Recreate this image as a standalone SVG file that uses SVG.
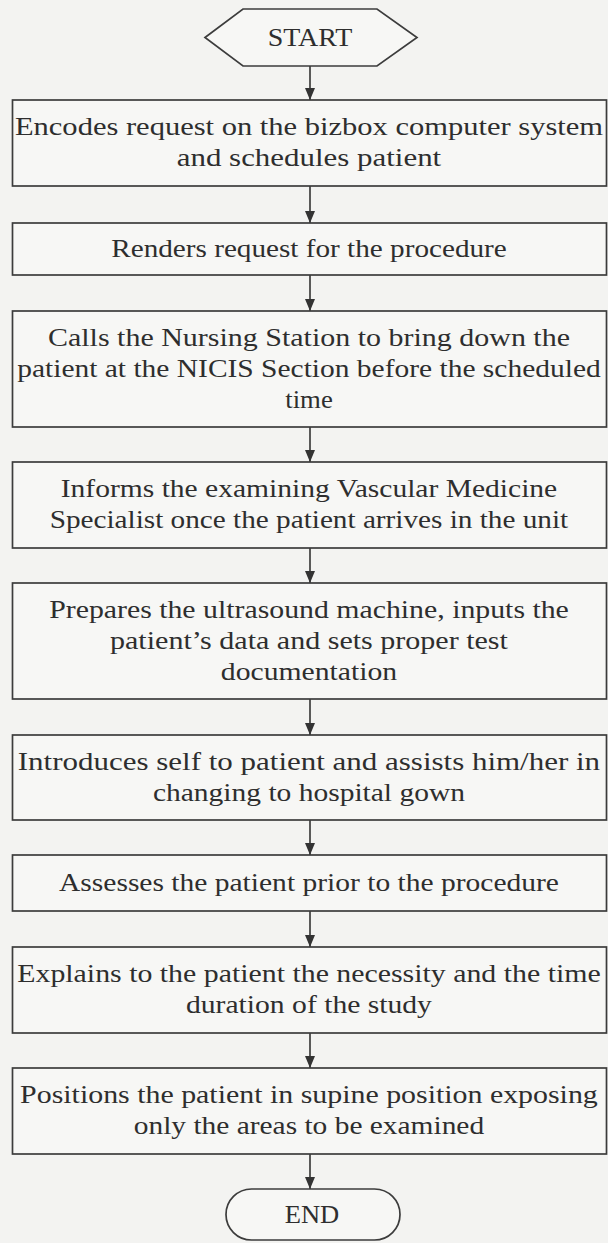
<svg xmlns="http://www.w3.org/2000/svg" width="608" height="1243" viewBox="0 0 608 1243">
<style>
.box{fill:#f7f7f5;stroke:#3c3c3c;stroke-width:1.7}
.t{font-family:"Liberation Serif","Times New Roman",serif;font-size:25px;fill:#2e2e2e;text-anchor:middle;transform-box:fill-box;transform-origin:center;transform:scaleX(1.16)}
.c{stroke:#333;stroke-width:1.6;fill:none}
</style>
<defs>
<marker id="ah" viewBox="0 0 12 10" refX="12" refY="5" markerWidth="12" markerHeight="10" markerUnits="userSpaceOnUse" orient="auto">
<path d="M0,0 L12,5 L0,10 Z" fill="#333"/>
</marker>
</defs>
<rect x="0" y="0" width="608" height="1243" fill="#f3f3f1"/>
<g id="connectors">
<line class="c" x1="310" y1="66" x2="310" y2="100" marker-end="url(#ah)"/>
<line class="c" x1="310" y1="186" x2="310" y2="223" marker-end="url(#ah)"/>
<line class="c" x1="310" y1="275" x2="310" y2="311" marker-end="url(#ah)"/>
<line class="c" x1="310" y1="427" x2="310" y2="462" marker-end="url(#ah)"/>
<line class="c" x1="310" y1="548" x2="310" y2="583" marker-end="url(#ah)"/>
<line class="c" x1="310" y1="699" x2="310" y2="735" marker-end="url(#ah)"/>
<line class="c" x1="310" y1="820" x2="310" y2="855" marker-end="url(#ah)"/>
<line class="c" x1="310" y1="911" x2="310" y2="947" marker-end="url(#ah)"/>
<line class="c" x1="310" y1="1033" x2="310" y2="1068" marker-end="url(#ah)"/>
<line class="c" x1="310" y1="1154" x2="310" y2="1189" marker-end="url(#ah)"/>
</g>
<g id="start">
<polygon class="box" points="205,37.5 243,9 377,9 417,37.5 377,66 243,66"/>
<text class="t" x="310" y="46" textLength="73" lengthAdjust="spacingAndGlyphs">START</text>
</g>
<g id="n1">
<rect class="box" x="12.5" y="100" width="594" height="86"/>
<text class="t" x="309" y="135.5" textLength="507" lengthAdjust="spacingAndGlyphs">Encodes request on the bizbox computer system</text>
<text class="t" x="309" y="166.5" textLength="228" lengthAdjust="spacingAndGlyphs">and schedules patient</text>
</g>
<g id="n2">
<rect class="box" x="12.5" y="223" width="594" height="52"/>
<text class="t" x="309" y="257" textLength="341" lengthAdjust="spacingAndGlyphs">Renders request for the procedure</text>
</g>
<g id="n3">
<rect class="box" x="12.5" y="311" width="594" height="116"/>
<text class="t" x="309" y="346" textLength="450" lengthAdjust="spacingAndGlyphs">Calls the Nursing Station to bring down the</text>
<text class="t" x="309" y="377" textLength="503" lengthAdjust="spacingAndGlyphs">patient at the NICIS Section before the scheduled</text>
<text class="t" x="309" y="408" textLength="41" lengthAdjust="spacingAndGlyphs">time</text>
</g>
<g id="n4">
<rect class="box" x="12.5" y="462" width="594" height="86"/>
<text class="t" x="309" y="497.5" textLength="428" lengthAdjust="spacingAndGlyphs">Informs the examining Vascular Medicine</text>
<text class="t" x="309" y="528.5" textLength="447" lengthAdjust="spacingAndGlyphs">Specialist once the patient arrives in the unit</text>
</g>
<g id="n5">
<rect class="box" x="12.5" y="583" width="594" height="116"/>
<text class="t" x="309" y="618" textLength="448" lengthAdjust="spacingAndGlyphs">Prepares the ultrasound machine, inputs the</text>
<text class="t" x="309" y="649" textLength="343" lengthAdjust="spacingAndGlyphs">patient’s data and sets proper test</text>
<text class="t" x="309" y="680" textLength="152" lengthAdjust="spacingAndGlyphs">documentation</text>
</g>
<g id="n6">
<rect class="box" x="12.5" y="735" width="594" height="85"/>
<text class="t" x="309" y="770" textLength="502" lengthAdjust="spacingAndGlyphs">Introduces self to patient and assists him/her in</text>
<text class="t" x="309" y="801" textLength="269" lengthAdjust="spacingAndGlyphs">changing to hospital gown</text>
</g>
<g id="n7">
<rect class="box" x="12.5" y="855" width="594" height="56"/>
<text class="t" x="309" y="891" textLength="431" lengthAdjust="spacingAndGlyphs">Assesses the patient prior to the procedure</text>
</g>
<g id="n8">
<rect class="box" x="12.5" y="947" width="594" height="86"/>
<text class="t" x="309" y="982.5" textLength="503" lengthAdjust="spacingAndGlyphs">Explains to the patient the necessity and the time</text>
<text class="t" x="309" y="1013.5" textLength="212" lengthAdjust="spacingAndGlyphs">duration of the study</text>
</g>
<g id="n9">
<rect class="box" x="12.5" y="1068" width="594" height="86"/>
<text class="t" x="309" y="1103.5" textLength="498" lengthAdjust="spacingAndGlyphs">Positions the patient in supine position exposing</text>
<text class="t" x="309" y="1134.5" textLength="302" lengthAdjust="spacingAndGlyphs">only the areas to be examined</text>
</g>
<g id="end">
<rect class="box" x="226" y="1189" width="174" height="51" rx="25.5" ry="25.5"/>
<text class="t" x="312" y="1223" textLength="47" lengthAdjust="spacingAndGlyphs">END</text>
</g>
</svg>
